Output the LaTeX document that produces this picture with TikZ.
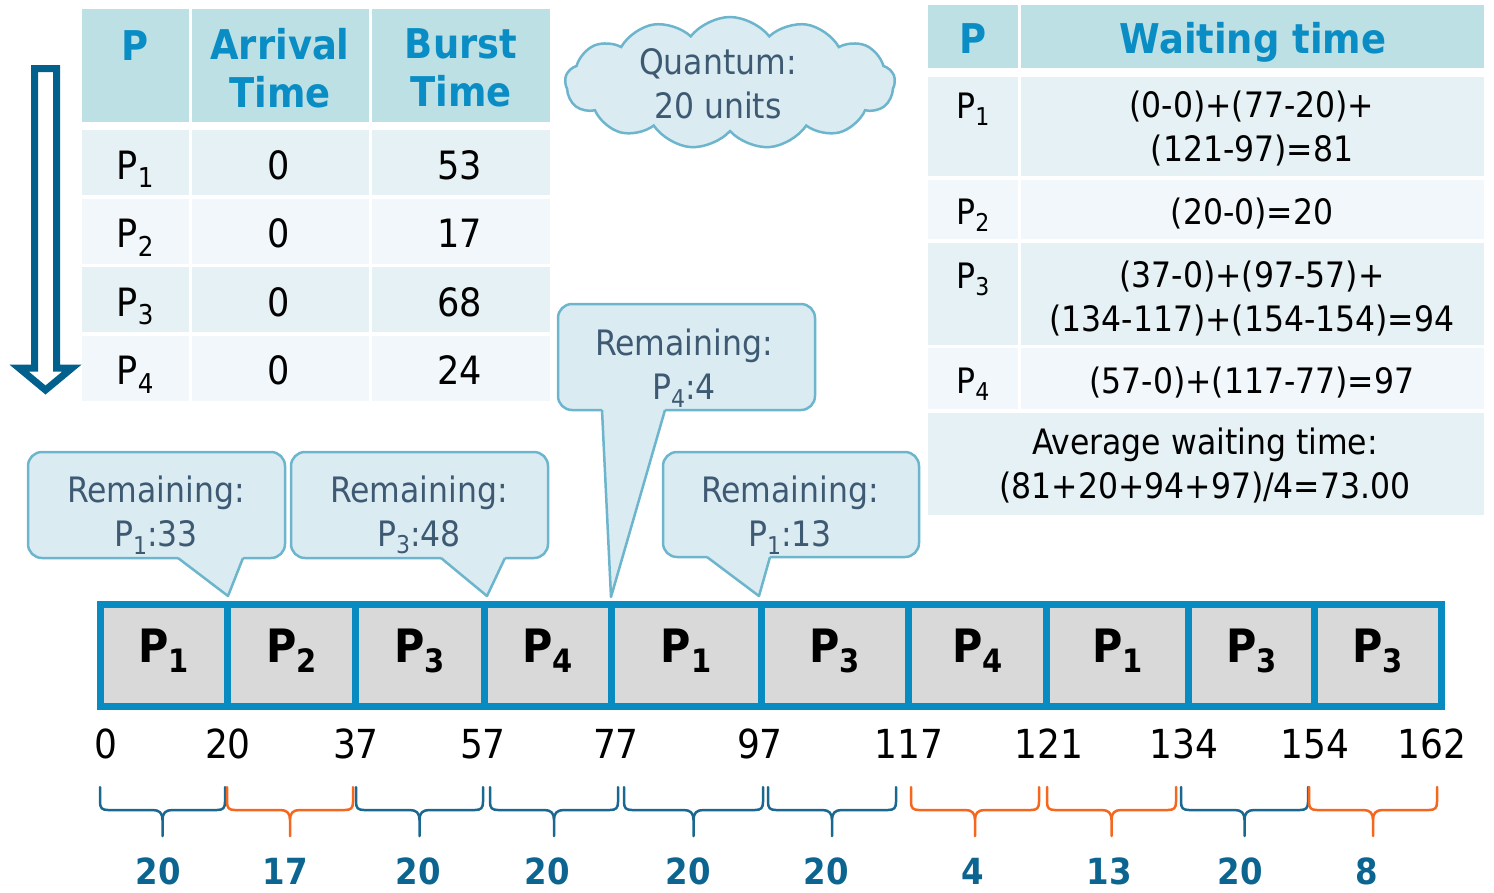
\documentclass[tikz,border=0pt]{standalone}
\usepackage{graphicx}
\usepackage{fontspec}
\setmainfont{DejaVuSansCondensed}[Extension=.ttf,BoldFont=DejaVuSansCondensed-Bold]
\usetikzlibrary{shapes.symbols}

\definecolor{hdrfill}{HTML}{BCE0E4}
\definecolor{rowa}{HTML}{E5F1F4}
\definecolor{rowb}{HTML}{F1F7FA}
\definecolor{hdrtext}{HTML}{0A8DC4}
\definecolor{callfill}{HTML}{DAEBF2}
\definecolor{callline}{HTML}{6CB5CC}
\definecolor{calltext}{HTML}{3E5A73}
\definecolor{ganttline}{HTML}{078BC0}
\definecolor{cellgray}{HTML}{D9D9D9}
\definecolor{braceblue}{HTML}{1A6890}
\definecolor{braceorange}{HTML}{F5661E}
\definecolor{numblue}{HTML}{0C6590}
\definecolor{arrowblue}{HTML}{02618C}

\newcommand\psub[1]{\raisebox{-0.22em}{\scalebox{0.7}{#1}}}
\newcommand\fsz[2]{\fontsize{#1}{#2}\selectfont}
% box with a pointed tail: x1 y1 x2 y2, tail base left/right, tip
\newcommand\calloutbox[7]{%
  \draw[callbox] (#1,#2) rectangle (#3,#4);
  \fill[callfill] (#5,#4-3) -- (#5,#4) -- (#7) -- (#6,#4) -- (#6,#4-3) -- cycle;
  \draw[calledge] (#5,#4) -- (#7) -- (#6,#4);}

\begin{document}
\begin{tikzpicture}[x=1pt,y=-1pt,
    hdr/.style={font=\bfseries\fsz{41}{48}, text=hdrtext, align=center},
    body/.style={font=\fsz{39}{46}, anchor=base},
    wait/.style={font=\fsz{35}{44}, align=center},
    note/.style={font=\fsz{35}{44}, text=calltext, align=center},
    callbox/.style={draw=callline, fill=callfill, line width=2.5pt, rounded corners=14pt},
    calledge/.style={draw=callline, line width=2.5pt, line join=round},
    cell/.style={draw=ganttline, fill=cellgray, line width=7pt, minimum height=102pt,
      inner sep=0pt, text height=33pt, text depth=20pt, font=\bfseries\fsz{46}{50}},
    tick/.style={font=\fsz{40}{46}, anchor=base},
    dur/.style={font=\bfseries\fsz{36}{40}, text=numblue, anchor=base},
    brc/.style={line width=2.5pt, line join=round, line cap=round}]

\useasboundingbox (0,0) rectangle (1494,892);

% order arrow
\draw[arrowblue, fill=white, line width=7pt] (34.5,68.5) -- (56.5,68.5) -- (56.5,368) -- (72,368)
  -- (45.5,390) -- (19,368) -- (34.5,368) -- cycle;

% burst table
\fill[hdrfill] (82,9) rectangle (189,122);
\fill[hdrfill] (192,9) rectangle (369,122);
\fill[hdrfill] (372,9) rectangle (550,122);
\foreach \i/\c in {0/rowa,1/rowb,2/rowa,3/rowb} {
  \pgfmathsetmacro\ya{130+68.5*\i}
  \pgfmathsetmacro\yb{\ya+65}
  \fill[\c] (82,\ya) rectangle (189,\yb);
  \fill[\c] (192,\ya) rectangle (369,\yb);
  \fill[\c] (372,\ya) rectangle (550,\yb);
}
\node[hdr, anchor=base] (hp) at (135,60) {P};
\node[hdr] (harr) at (280,68) {Arrival\\Time};
\node[hdr] (hbur) at (461,68) {Burst\\Time};
\foreach \i/\b in {1/53,2/17,3/68,4/24} {
  \pgfmathsetmacro\yy{179+68.5*(\i-1)}
  \node[body] (p\i) at (135,\yy) {P\psub{\i}};
  \node[body] (a\i) at (279,\yy) {0};
  \node[body] (b\i) at (460,\yy) {\b};
}

% quantum cloud
\node[cloud, cloud puffs=13, cloud puff arc=105, cloud ignores aspect, draw=callline, fill=callfill,
  line width=2.5pt, minimum width=330pt, minimum height=132pt] (cloud) at (730,83) {};
\node[note] (quant) at (718,84) {Quantum:\\20 units};

% remaining callouts
\coordinate (tip1) at (228,596);
\coordinate (tip2) at (487,596);
\coordinate (tip3) at (611,597);
\coordinate (tip4) at (759,596);
\calloutbox{28}{452}{285}{558}{178}{243}{tip1}
\calloutbox{291}{452}{548}{558}{441}{505}{tip2}
\calloutbox{558}{304}{815}{410}{602}{665}{tip3}
\calloutbox{663}{452}{919}{557}{707}{770}{tip4}
\node[note] (rem1) at (156,515) {Remaining:\\P\psub{1}:33};
\node[note] (rem2) at (419,515) {Remaining:\\P\psub{3}:48};
\node[note] (rem3) at (684,368) {Remaining:\\P\psub{4}:4};
\node[note] (rem4) at (790,515) {Remaining:\\P\psub{1}:13};

% gantt chart
\foreach \a/\b/\p [count=\k] in {100/227.5/1, 227.5/355.5/2, 355.5/484/3, 484/611/4, 611/761/1,
    761/908.5/3, 908.5/1046.5/4, 1046.5/1188/1, 1188/1314.5/3, 1314.5/1441/3} {
  \pgfmathsetmacro\w{\b-\a}
  \pgfmathsetmacro\xc{(\a+\b)/2}
  \node[cell, minimum width=\w pt] (g\k) at (\xc,655.5) {P\psub{\p}};
}
\foreach \t/\x [count=\k from 0] in {0/106,20/228,37/356,57/483,77/616,97/760,117/909,
    121/1049,134/1184,154/1315,162/1432}
  \node[tick] (t\k) at (\x,758) {\t};

% slice braces
\foreach \a/\b/\c/\n/\nx [count=\k] in {100/225/braceblue/20/158, 227/353/braceorange/17/285,
    356/483/braceblue/20/418, 490/618/braceblue/20/547, 624/763/braceblue/20/688,
    768/896/braceblue/20/826, 911/1039/braceorange/4/973, 1047/1176/braceorange/13/1109,
    1181/1308/braceblue/20/1240, 1309/1437/braceorange/8/1367} {
  \pgfmathsetmacro\m{(\a+\b)/2}
  \draw[brc, draw=\c] (\a,787) -- (\a,802) .. controls (\a,808) and (\a+2,810) .. (\a+8,810)
    -- (\m-10,810) .. controls (\m-3,810) and (\m,813) .. (\m,820) -- (\m,836)
    -- (\m,820) .. controls (\m,813) and (\m+3,810) .. (\m+10,810)
    -- (\b-8,810) .. controls (\b-2,810) and (\b,808) .. (\b,802) -- (\b,787);
  \node[dur] (d\k) at (\nx,884) {\n};
}

% waiting time table
\fill[hdrfill] (928,5) rectangle (1018,68);
\fill[hdrfill] (1021,5) rectangle (1484,68);
\foreach \ya/\yb/\c in {77/176/rowa, 180/239/rowb, 243/345/rowa, 348/409/rowb} {
  \fill[\c] (928,\ya) rectangle (1018,\yb);
  \fill[\c] (1021,\ya) rectangle (1484,\yb);
}
\fill[rowa] (928,413) rectangle (1484,515);
\node[hdr, anchor=base] (wp) at (973,53) {P};
\node[hdr, anchor=base] (wt) at (1253,53) {Waiting time};
\foreach \i/\y in {1/118,2/224,3/288,4/393}
  \node[wait, anchor=base] (q\i) at (973,\y) {P\psub{\i}};
\node[wait] (w1) at (1252,129) {(0-0)+(77-20)+\\(121-97)=81};
\node[wait, anchor=base] (w2) at (1252,224) {(20-0)=20};
\node[wait] (w3) at (1252,299) {(37-0)+(97-57)+\\(134-117)+(154-154)=94};
\node[wait, anchor=base] (w4) at (1252,393) {(57-0)+(117-77)=97};
\node[wait] (avg) at (1205,466) {Average waiting time:\\(81+20+94+97)/4=73.00};
\end{tikzpicture}
\end{document}
